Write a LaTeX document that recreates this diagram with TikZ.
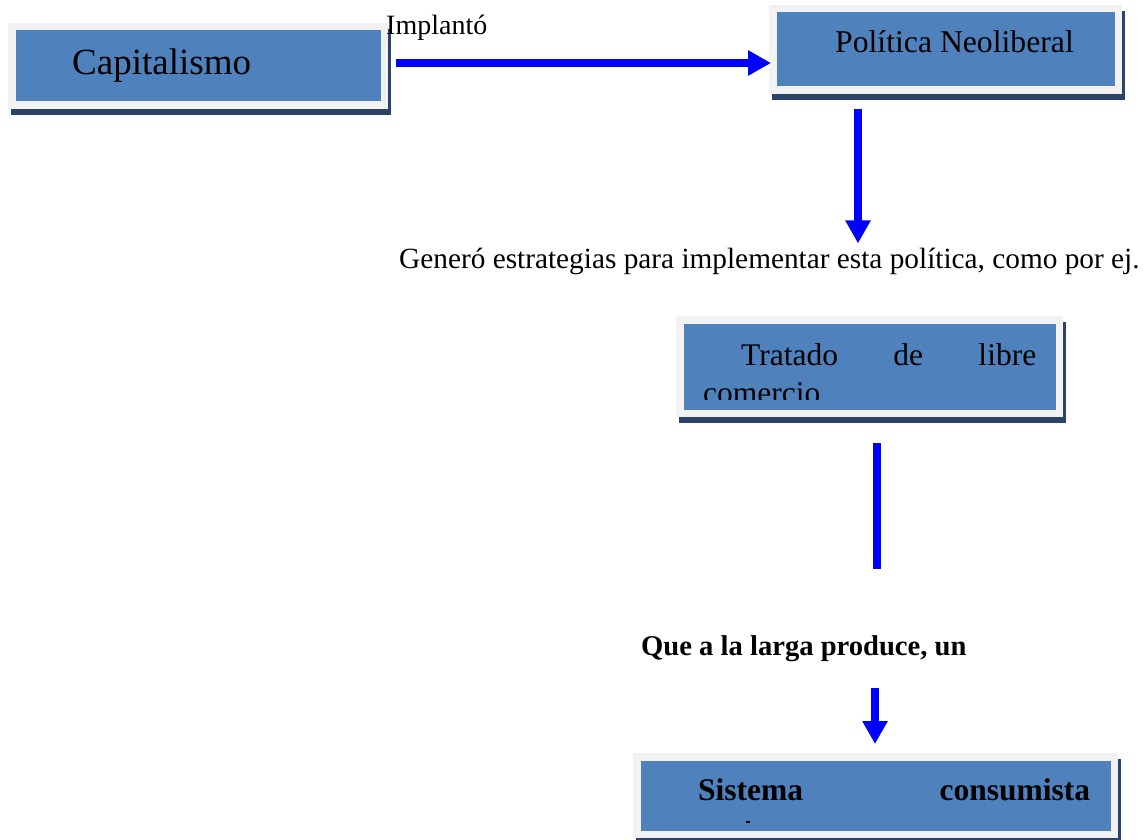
\documentclass[tikz,border=0pt]{standalone}
\usepackage{fontspec}
\setmainfont{Liberation Serif}
\usetikzlibrary{arrows.meta,calc}
\definecolor{boxblue}{HTML}{4F81BD}
\definecolor{framegray}{HTML}{F2F2F2}
\definecolor{shadowc}{HTML}{2A4468}
\definecolor{arrowblue}{HTML}{0000FF}
\tikzset{
  boxnode/.style={rectangle, inner sep=0pt, fill=boxblue, draw=framegray, line width=7.5pt,
    preaction={draw=shadowc, fill=shadowc, line width=7.5pt, transform canvas={shift={(3pt,-6pt)}}}},
  txt/.style={inner sep=0pt, anchor=base west, text=black},
  arr/.style={draw=arrowblue, line width=8pt, -{Triangle[length=23pt,width=24pt]}},
  plainline/.style={draw=arrowblue, line width=8pt},
}
\newcommand{\fs}[1]{\fontsize{#1}{#1}\selectfont}
\begin{document}
\begin{tikzpicture}[x=1pt,y=-1pt]
\useasboundingbox (0,0) rectangle (1146,840);
% boxes
\node[boxnode, minimum width=372.5pt, minimum height=78.5pt] (cap) at (198,66) {};
\node[boxnode, minimum width=345.5pt, minimum height=81.5pt] (pol) at (945.5,49.5) {};
\node[boxnode, minimum width=379.5pt, minimum height=93.5pt] (tlc) at (869.5,366.5) {};
\node[boxnode, minimum width=477.5pt, minimum height=77.5pt] (sis) at (875.5,795.5) {};
% texts
\node[txt] (capt) at (72,75) {\fs{37}Capitalismo};
\node[txt] (polt) at (835,53) {\fs{31.7}Política Neoliberal};
\node[txt] (tlct) at (741,365) {\fs{31.5}\hbox to 295pt{Tratado\hfill de\hfill libre}};
\begin{scope}
  \clip (683,324) rectangle (1056,399);
  \node[txt] (tlc2) at (703,403) {\fs{31.5}comercio};
\end{scope}
\node[txt] (sist) at (698,800) {\fs{31.5}\bfseries\hbox to 392pt{Sistema\hfill consumista}};
\fill[black] (746,820.5) rectangle (750,822.5);
\node[txt] (impl) at (386,35) {\fs{28}Implantó};
\node[txt] (gen) at (399,268) {\fs{29.3}Generó estrategias para implementar esta política, como por ej.};
\node[txt] (que) at (641,655) {\fs{28.6}\bfseries Que a la larga produce, un};
% connectors
\coordinate (x2) at (858,0);
\coordinate (x3) at (876.5,0);
\coordinate (x4) at (875,0);
\draw[arr, shorten <=8pt, shorten >=-2pt] ([yshift=3pt]cap.east) -- ([yshift=3pt]cap.east -| pol.west);
\draw[arr, shorten <=14.75pt, shorten >=4pt] (pol.south -| x2) -- (gen.north -| x2);
\draw[plainline, shorten <=26pt, shorten >=66pt] (tlc.south -| x3) -- (que.north -| x3);
\draw[arr, shorten <=26pt, shorten >=9pt] (que.south -| x4) -- (sis.north -| x4);
\end{tikzpicture}
\end{document}
